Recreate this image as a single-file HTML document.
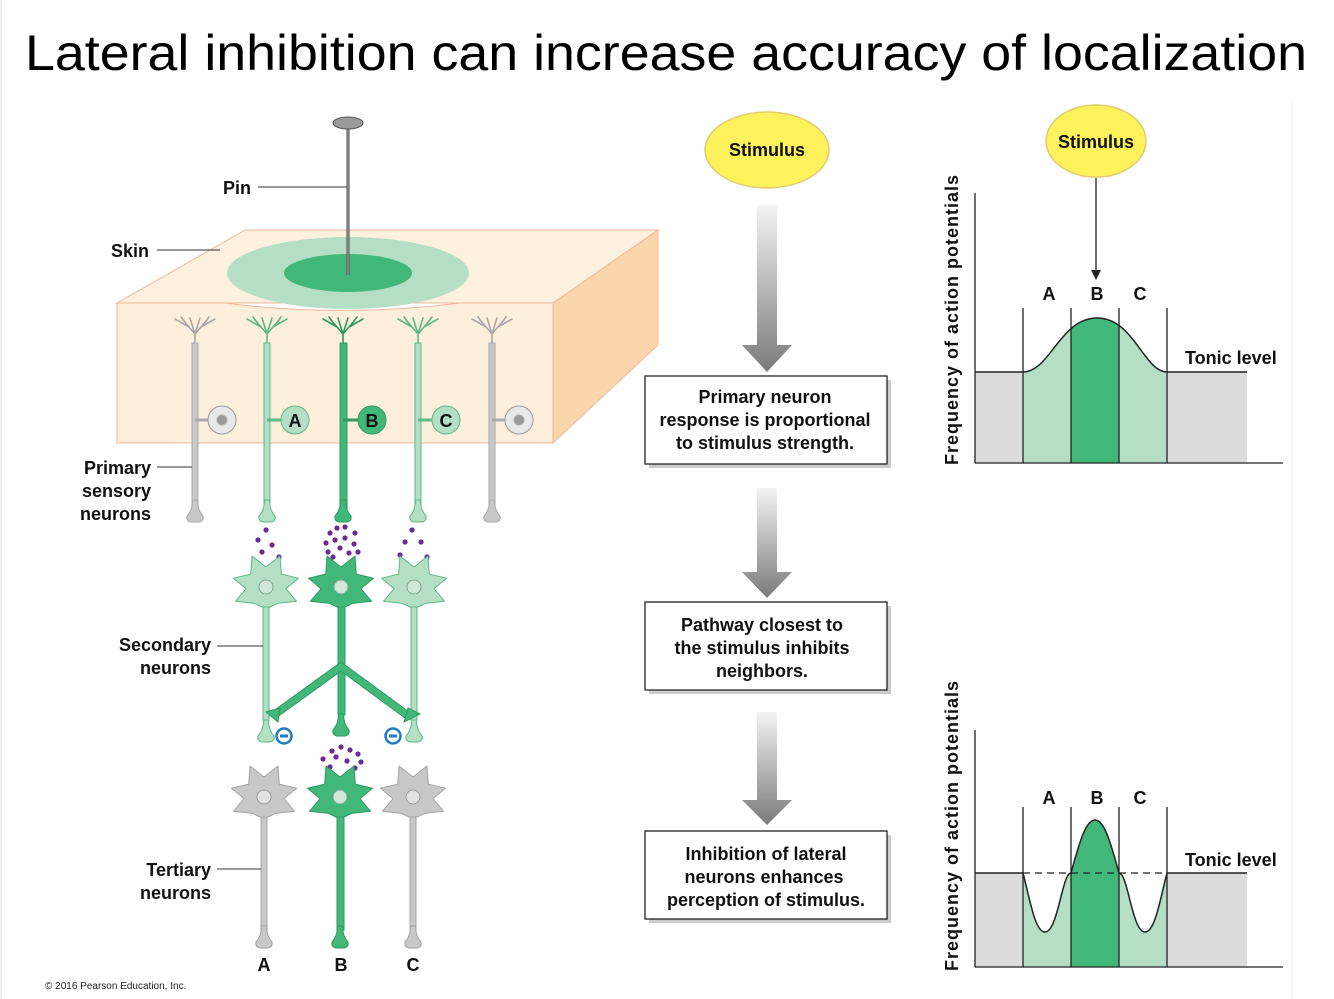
<!DOCTYPE html>
<html><head><meta charset="utf-8"><style>
html,body{margin:0;padding:0;background:#fff;}
svg{display:block;}
text{font-family:"Liberation Sans",Arial,sans-serif;}
.b{font-weight:bold;font-size:18px;fill:#111;}
</style></head><body>
<svg width="1334" height="999" viewBox="0 0 1334 999" xmlns="http://www.w3.org/2000/svg">
<defs>
<linearGradient id="ag" x1="0" y1="0" x2="0" y2="1">
<stop offset="0" stop-color="#f4f4f4"/><stop offset="1" stop-color="#7a7a7a"/></linearGradient>
<polygon id="star" points="-14,-31 0,-20 14,-31 15.3,-12.9 32.5,-8.8 19.9,1.7 30.5,14.2 11.5,16.4 4,20 -4,20 -11.5,16.4 -30.5,14.2 -19.9,1.7 -32.5,-8.8 -15.3,-12.9" stroke-linejoin="round"/>
<path id="bulb" d="M-2.5,-16 Q-2.5,-6 -8,0 Q-9,5 -4,6 L4,6 Q9,5 8,0 Q2.5,-6 2.5,-16 Z"/>
<g id="dend" fill="none" stroke-width="1.6" stroke-linecap="round">
<path d="M0,24 L0,14 M0,14 L-12,0 M0,14 L12,0 M0,14 L-5,-2 M0,14 L5,-2 M-6,7 L-20,-1 M6,7 L20,-1 M-8,5 L-14,-3 M8,5 L14,-3"/>
</g>
<clipPath id="c1"><path d="M1023,372 C1050,372 1060,318 1097,318 C1134,318 1144,372 1167,372 L1167,463 L1023,463 Z"/></clipPath>
<clipPath id="c2"><path d="M1023,873 C1030,900 1035,932 1045,932 C1058,932 1062,873 1071,873 C1080,840 1086,820 1095,820 C1104,820 1110,840 1119,873 C1128,873 1132,932 1145,932 C1155,932 1160,900 1167,873 L1167,967 L1023,967 Z"/></clipPath>
</defs>
<rect width="1334" height="999" fill="#fff"/>
<line x1="1" y1="0" x2="1" y2="999" stroke="#ddd"/>
<line x1="1292" y1="100" x2="1292" y2="999" stroke="#eee"/>
<text x="25" y="70" font-size="50" textLength="1282" lengthAdjust="spacingAndGlyphs" fill="#000">Lateral inhibition can increase accuracy of localization</text>

<!-- skin box -->
<polygon points="117,303 245,230 658,230 553,303" fill="#fdf0de" stroke="#f0b89a" stroke-width="1"/>
<polygon points="553,303 658,230 658,345 553,443" fill="#fbd6ad" stroke="#f0b89a" stroke-width="1"/>
<path d="M117,303 L225,303 Q340,318 460,303 L553,303 L553,443 L117,443 Z" fill="#fdefdc" stroke="#f0b89a" stroke-width="1"/>
<ellipse cx="348" cy="273" rx="121" ry="36" fill="#b5dfc4"/>
<ellipse cx="348" cy="273" rx="64" ry="19" fill="#41b87a"/>
<line x1="348" y1="124" x2="348" y2="275" stroke="#444" stroke-width="3"/>
<line x1="348" y1="124" x2="348" y2="275" stroke="#bbb" stroke-width="1"/>
<ellipse cx="348" cy="123" rx="15" ry="6" fill="#999" stroke="#555"/>
<text class="b" x="223" y="194">Pin</text><line x1="258" y1="187" x2="347" y2="187" stroke="#333"/>
<text class="b" x="111" y="257">Skin</text><line x1="157" y1="250" x2="220" y2="250" stroke="#333"/>

<!-- primary neurons -->
<g>
<g stroke="#aaa" fill="#c8c8c8"><use href="#dend" x="195" y="320" stroke="#a8a8a8"/><rect x="192" y="343" width="6" height="165"/><use href="#bulb" x="195" y="516"/><line x1="195" y1="420" x2="210" y2="420" stroke-width="3"/><circle cx="222" cy="420" r="14" fill="#e8e8e8" stroke="#999"/><circle cx="222" cy="420" r="5" fill="#999"/></g>
<g stroke="#5cba86" fill="#b5dfc4"><use href="#dend" x="267" y="320" stroke="#5cba86"/><rect x="264" y="343" width="6" height="165"/><use href="#bulb" x="267" y="516"/><line x1="267" y1="420" x2="282" y2="420" stroke-width="3"/><circle cx="295" cy="420" r="14"/></g>
<g stroke="#2e9a5e" fill="#41b87a"><use href="#dend" x="343" y="320" stroke="#2e9a5e"/><rect x="340" y="343" width="7" height="165"/><use href="#bulb" x="343" y="516"/><line x1="343" y1="420" x2="358" y2="420" stroke-width="3"/><circle cx="372" cy="420" r="14"/></g>
<g stroke="#5cba86" fill="#b5dfc4"><use href="#dend" x="418" y="320" stroke="#5cba86"/><rect x="415" y="343" width="6" height="165"/><use href="#bulb" x="418" y="516"/><line x1="418" y1="420" x2="433" y2="420" stroke-width="3"/><circle cx="446" cy="420" r="14"/></g>
<g stroke="#aaa" fill="#c8c8c8"><use href="#dend" x="492" y="320" stroke="#a8a8a8"/><rect x="489" y="343" width="6" height="165"/><use href="#bulb" x="492" y="516"/><line x1="492" y1="420" x2="507" y2="420" stroke-width="3"/><circle cx="519" cy="420" r="14" fill="#e8e8e8" stroke="#999"/><circle cx="519" cy="420" r="5" fill="#999"/></g>
<text class="b" x="295" y="427" text-anchor="middle">A</text>
<text class="b" x="372" y="427" text-anchor="middle">B</text>
<text class="b" x="446" y="427" text-anchor="middle">C</text>
</g>
<text class="b" x="151" y="474" text-anchor="end">Primary</text>
<text class="b" x="151" y="497" text-anchor="end">sensory</text>
<text class="b" x="151" y="520" text-anchor="end">neurons</text>
<line x1="157" y1="467" x2="192" y2="467" stroke="#333"/>

<!-- vesicles -->
<g fill="#6a2b94">
<circle cx="266" cy="530" r="2.6"/><circle cx="258" cy="540" r="2.6"/><circle cx="272" cy="545" r="2.6"/><circle cx="262" cy="552" r="2.6"/><circle cx="279" cy="557" r="2.6"/>
<circle cx="412" cy="530" r="2.6"/><circle cx="405" cy="542" r="2.6"/><circle cx="421" cy="542" r="2.6"/><circle cx="400" cy="555" r="2.6"/><circle cx="427" cy="557" r="2.6"/>
<circle cx="330" cy="533" r="2.6"/><circle cx="337" cy="528" r="2.6"/><circle cx="345" cy="527" r="2.6"/><circle cx="355" cy="533" r="2.6"/><circle cx="326" cy="543" r="2.6"/><circle cx="335" cy="540" r="2.6"/><circle cx="345" cy="538" r="2.6"/><circle cx="354" cy="544" r="2.6"/><circle cx="328" cy="552" r="2.6"/><circle cx="340" cy="548" r="2.6"/><circle cx="349" cy="553" r="2.6"/><circle cx="358" cy="552" r="2.6"/><circle cx="333" cy="557" r="2.6"/>
<circle cx="341" cy="747" r="2.6"/><circle cx="332" cy="751" r="2.6"/><circle cx="350" cy="750" r="2.6"/><circle cx="358" cy="754" r="2.6"/><circle cx="323" cy="759" r="2.6"/><circle cx="336" cy="757" r="2.6"/><circle cx="347" cy="761" r="2.6"/><circle cx="361" cy="762" r="2.6"/><circle cx="330" cy="767" r="2.6"/><circle cx="355" cy="768" r="2.6"/>
</g>

<!-- secondary neurons -->
<g stroke="#5cba86" fill="#b5dfc4"><rect x="263" y="600" width="6" height="120"/><use href="#bulb" x="266" y="736"/><use href="#star" x="266" y="587"/></g>
<g stroke="#5cba86" fill="#b5dfc4"><rect x="411" y="600" width="6" height="120"/><use href="#bulb" x="414" y="736"/><use href="#star" x="414" y="587"/></g>
<g stroke="#2e9a5e" fill="#41b87a"><rect x="338" y="600" width="7" height="115"/><use href="#bulb" x="341" y="730"/>
<path d="M341,662 L272,712 L276,718 L341,671 L405,718 L409,712 Z" stroke-linejoin="round"/>
<path d="M266,712 L280,708 L278,722 Z"/><path d="M408,708 L420,714 L404,722 Z"/>
<use href="#star" x="341" y="587"/></g>
<g fill="#cfe8d8" stroke="#7aa890"><circle cx="266" cy="587" r="7"/><circle cx="414" cy="587" r="7"/><circle cx="341" cy="587" r="7"/></g>
<g fill="#fff" stroke="#1e7cc2" stroke-width="2.5"><circle cx="284" cy="736" r="7.5"/><circle cx="393" cy="736" r="7.5"/></g>
<g stroke="#1e7cc2" stroke-width="3"><line x1="280" y1="736" x2="288" y2="736"/><line x1="389" y1="736" x2="397" y2="736"/></g>
<text class="b" x="211" y="651" text-anchor="end">Secondary</text>
<text class="b" x="211" y="674" text-anchor="end">neurons</text>
<line x1="217" y1="646" x2="263" y2="646" stroke="#333"/>

<!-- tertiary neurons -->
<g stroke="#a5a5a5" fill="#c8c8c8"><rect x="261" y="810" width="6" height="120"/><use href="#bulb" x="264" y="942"/><use href="#star" x="264" y="797"/></g>
<g stroke="#a5a5a5" fill="#c8c8c8"><rect x="410" y="810" width="6" height="120"/><use href="#bulb" x="413" y="942"/><use href="#star" x="413" y="797"/></g>
<g stroke="#2e9a5e" fill="#41b87a"><rect x="337" y="810" width="7" height="120"/><use href="#bulb" x="340" y="942"/><use href="#star" x="340" y="797"/></g>
<g fill="#e2e2e2" stroke="#999"><circle cx="264" cy="797" r="7"/><circle cx="413" cy="797" r="7"/></g>
<circle cx="340" cy="797" r="7" fill="#cfe8d8" stroke="#7aa890"/>
<text class="b" x="211" y="876" text-anchor="end">Tertiary</text>
<text class="b" x="211" y="899" text-anchor="end">neurons</text>
<line x1="217" y1="869" x2="261" y2="869" stroke="#333"/>
<text class="b" x="264" y="971" text-anchor="middle">A</text>
<text class="b" x="341" y="971" text-anchor="middle">B</text>
<text class="b" x="413" y="971" text-anchor="middle">C</text>
<text x="45" y="989" font-size="10" fill="#222">© 2016 Pearson Education, Inc.</text>

<!-- middle -->
<ellipse cx="767" cy="150" rx="62" ry="38" fill="#fdf25c" stroke="#e2cc70" stroke-width="1.5"/>
<text class="b" x="767" y="156" text-anchor="middle">Stimulus</text>
<g fill="url(#ag)">
<path d="M757,205 L777,205 L777,345 L792,345 L767,372 L742,345 L757,345 Z"/>
<path d="M757,488 L777,488 L777,572 L792,572 L767,598 L742,572 L757,572 Z"/>
<path d="M757,712 L777,712 L777,800 L792,800 L767,825 L742,800 L757,800 Z"/>
</g>
<g fill="#fff" stroke="#222" stroke-width="1.3">
<rect x="649" y="380" width="242" height="88" fill="#999" stroke="none" opacity="0.5"/>
<rect x="645" y="376" width="242" height="88"/>
<rect x="649" y="606" width="242" height="88" fill="#999" stroke="none" opacity="0.5"/>
<rect x="645" y="602" width="242" height="88"/>
<rect x="649" y="835" width="242" height="88" fill="#999" stroke="none" opacity="0.5"/>
<rect x="645" y="831" width="242" height="88"/>
</g>
<text class="b" x="765" y="403" text-anchor="middle">Primary neuron</text>
<text class="b" x="765" y="426" text-anchor="middle">response is proportional</text>
<text class="b" x="765" y="449" text-anchor="middle">to stimulus strength.</text>
<text class="b" x="762" y="631" text-anchor="middle">Pathway closest to</text>
<text class="b" x="762" y="654" text-anchor="middle">the stimulus inhibits</text>
<text class="b" x="762" y="677" text-anchor="middle">neighbors.</text>
<text class="b" x="766" y="860" text-anchor="middle">Inhibition of lateral</text>
<text class="b" x="764" y="883" text-anchor="middle">neurons enhances</text>
<text class="b" x="766" y="906" text-anchor="middle">perception of stimulus.</text>

<!-- top graph -->
<ellipse cx="1096" cy="141" rx="50" ry="36" fill="#fdf25c" stroke="#e2cc70" stroke-width="1.5"/>
<text class="b" x="1096" y="148" text-anchor="middle">Stimulus</text>
<line x1="1096" y1="178" x2="1096" y2="272" stroke="#222" stroke-width="1.3"/>
<path d="M1091,270 L1096,280 L1101,270 Z" fill="#222"/>
<rect x="975" y="372" width="48" height="91" fill="#dcdcdc"/>
<rect x="1167" y="372" width="80" height="91" fill="#dcdcdc"/>
<g clip-path="url(#c1)"><rect x="1023" y="300" width="144" height="170" fill="#b5dfc4"/><rect x="1071" y="300" width="48" height="170" fill="#41b87a"/></g>
<path d="M975,372 L1023,372 C1050,372 1060,318 1097,318 C1134,318 1144,372 1167,372 L1247,372" fill="none" stroke="#222" stroke-width="1.5"/>
<g stroke="#222" stroke-width="1.3"><line x1="975" y1="193" x2="975" y2="463"/><line x1="975" y1="463" x2="1283" y2="463"/>
<line x1="1023" y1="308" x2="1023" y2="463"/><line x1="1071" y1="308" x2="1071" y2="463"/><line x1="1119" y1="308" x2="1119" y2="463"/><line x1="1167" y1="308" x2="1167" y2="463"/></g>
<text class="b" x="1049" y="300" text-anchor="middle">A</text><text class="b" x="1097" y="300" text-anchor="middle">B</text><text class="b" x="1140" y="300" text-anchor="middle">C</text>
<text class="b" x="1185" y="364" font-size="19">Tonic level</text>
<text class="b" transform="translate(958,320) rotate(-90)" text-anchor="middle" font-size="19" textLength="290">Frequency of action potentials</text>

<!-- bottom graph -->
<rect x="975" y="873" width="48" height="94" fill="#dcdcdc"/>
<rect x="1167" y="873" width="80" height="94" fill="#dcdcdc"/>
<g clip-path="url(#c2)"><rect x="1023" y="800" width="144" height="170" fill="#b5dfc4"/><rect x="1071" y="800" width="48" height="170" fill="#41b87a"/></g>
<path d="M975,873 L1023,873 C1030,900 1035,932 1045,932 C1058,932 1062,873 1071,873 C1080,840 1086,820 1095,820 C1104,820 1110,840 1119,873 C1128,873 1132,932 1145,932 C1155,932 1160,900 1167,873 L1247,873" fill="none" stroke="#222" stroke-width="1.5"/>
<line x1="1023" y1="873" x2="1167" y2="873" stroke="#222" stroke-width="1.3" stroke-dasharray="7,5"/>
<g stroke="#222" stroke-width="1.3"><line x1="975" y1="730" x2="975" y2="967"/><line x1="975" y1="967" x2="1283" y2="967"/>
<line x1="1023" y1="807" x2="1023" y2="967"/><line x1="1071" y1="807" x2="1071" y2="967"/><line x1="1119" y1="807" x2="1119" y2="967"/><line x1="1167" y1="807" x2="1167" y2="967"/></g>
<text class="b" x="1049" y="804" text-anchor="middle">A</text><text class="b" x="1097" y="804" text-anchor="middle">B</text><text class="b" x="1140" y="804" text-anchor="middle">C</text>
<text class="b" x="1185" y="866" font-size="19">Tonic level</text>
<text class="b" transform="translate(958,826) rotate(-90)" text-anchor="middle" font-size="19" textLength="290">Frequency of action potentials</text>
</svg>
</body></html>
